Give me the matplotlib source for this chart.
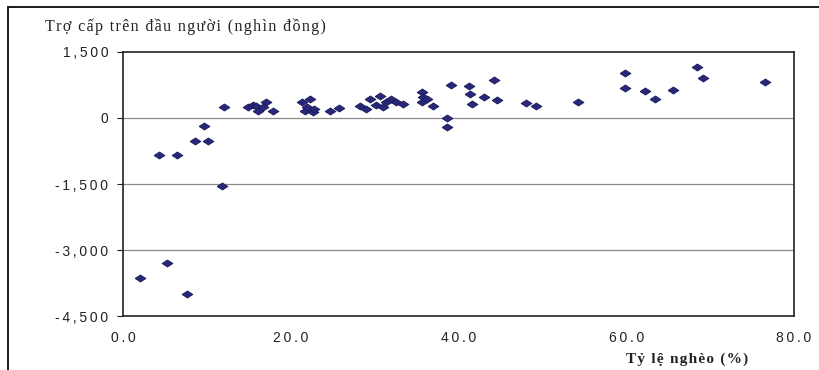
import numpy as np
import matplotlib
matplotlib.use("Agg")
import matplotlib.pyplot as plt
from matplotlib.patches import Rectangle

# ======================================================
# Data: poverty rate (%) vs transfer per capita (thousand dong)
# ======================================================

poverty_rate = [
    2.0, 5.2, 7.6, 11.8, 4.3, 6.4, 8.6, 10.1, 9.6, 12.0,
    14.9, 15.5, 15.9, 16.1, 16.7, 17.0, 17.9,
    21.3, 21.7, 21.9, 22.3, 22.7, 22.8, 24.7, 25.7,
    28.2, 29.0, 29.4, 30.2, 30.6, 31.0, 31.4, 31.9, 32.6, 33.4,
    35.6, 35.8, 35.6, 36.2, 37.0, 38.6, 38.6, 39.1,
    41.2, 41.4, 41.6, 43.0, 44.2, 44.6, 48.0, 49.2, 54.3,
    59.8, 59.8, 62.2, 63.4, 65.6, 68.4, 69.1, 76.5,
]
transfer = [
    -3630, -3300, -4010, -1550, -850, -850, -520, -520, -175, 255,
    240, 300, 280, 165, 240, 370, 165,
    355, 165, 240, 430, 130, 200, 165, 220,
    280, 205, 430, 300, 505, 240, 355, 430, 355, 320,
    585, 470, 355, 430, 265, 0, -200, 750,
    725, 545, 320, 485, 870, 415, 335, 265, 360,
    1020, 675, 610, 430, 645, 1165, 920, 810,
]

x_ticks = [0, 20, 40, 60, 80]
x_tick_labels = ["0.0", "20.0", "40.0", "60.0", "80.0"]
y_ticks = [1500, 0, -1500, -3000, -4500]
y_tick_labels = ["1,500", "0", "-1,500", "-3,000", "-4,500"]

title_text = "Trợ cấp trên đầu người (nghìn đồng)"
xlabel_text = "Tỷ lệ nghèo (%)"


def spaced(s, gap="\u2009"):
    # crude letter spacing
    return gap.join(s)


# ======================================================
# Plot
# ======================================================

fig = plt.figure(figsize=(8.19, 3.70), dpi=100)
ax = fig.add_axes([0.1502, 0.1459, 0.8193, 0.7136])

diamond = [(-1, 0), (0, 0.65), (1, 0), (0, -0.65), (-1, 0)]
ax.plot(poverty_rate, transfer, linestyle="none", marker=diamond,
        markersize=7.8, markerfacecolor="#28287a", markeredgecolor="#1c1c5a",
        markeredgewidth=0.6, zorder=3)

ax.set_xlim(0, 80)
ax.set_ylim(-4500, 1500)

tick_font = ["Liberation Sans", "DejaVu Sans"]
ax.set_xticks(x_ticks)
ax.set_xticklabels([spaced(t) for t in x_tick_labels], family=tick_font, fontsize=10)
ax.set_yticks(y_ticks)
ax.set_yticklabels([spaced(t) for t in y_tick_labels], family=tick_font, fontsize=10)
ax.tick_params(axis="x", length=0, pad=11, colors="#222222")
ax.tick_params(axis="y", length=4.5, width=0.8, pad=6, colors="#222222")

# horizontal grid lines
for v in [0, -1500, -3000]:
    ax.axhline(v, color="#8a8a8a", linewidth=0.9, zorder=1)

for sp in ax.spines.values():
    sp.set_linewidth(1.2)
    sp.set_color("#222222")

serif = ["Liberation Serif", "DejaVu Serif"]
fig.text(45 / 819, 1 - 27 / 370, spaced(title_text, "\u200a"), family=serif,
         fontsize=11.5, color="#222222", ha="left", va="center")
fig.text(687 / 819, 1 - 359 / 370, spaced(xlabel_text, "\u200a"), family=serif,
         fontsize=11, fontweight="bold", color="#222222", ha="center", va="center")

# outer chart frame, runs off the right and bottom edges
frame = Rectangle((8 / 819, -0.1), 1.2, 1 - 7 / 370 + 0.1,
                  transform=fig.transFigure, fill=False,
                  edgecolor="#1a1a1a", linewidth=1.4, clip_on=False)
fig.patches.append(frame)

fig.savefig("out.png", dpi=100)
